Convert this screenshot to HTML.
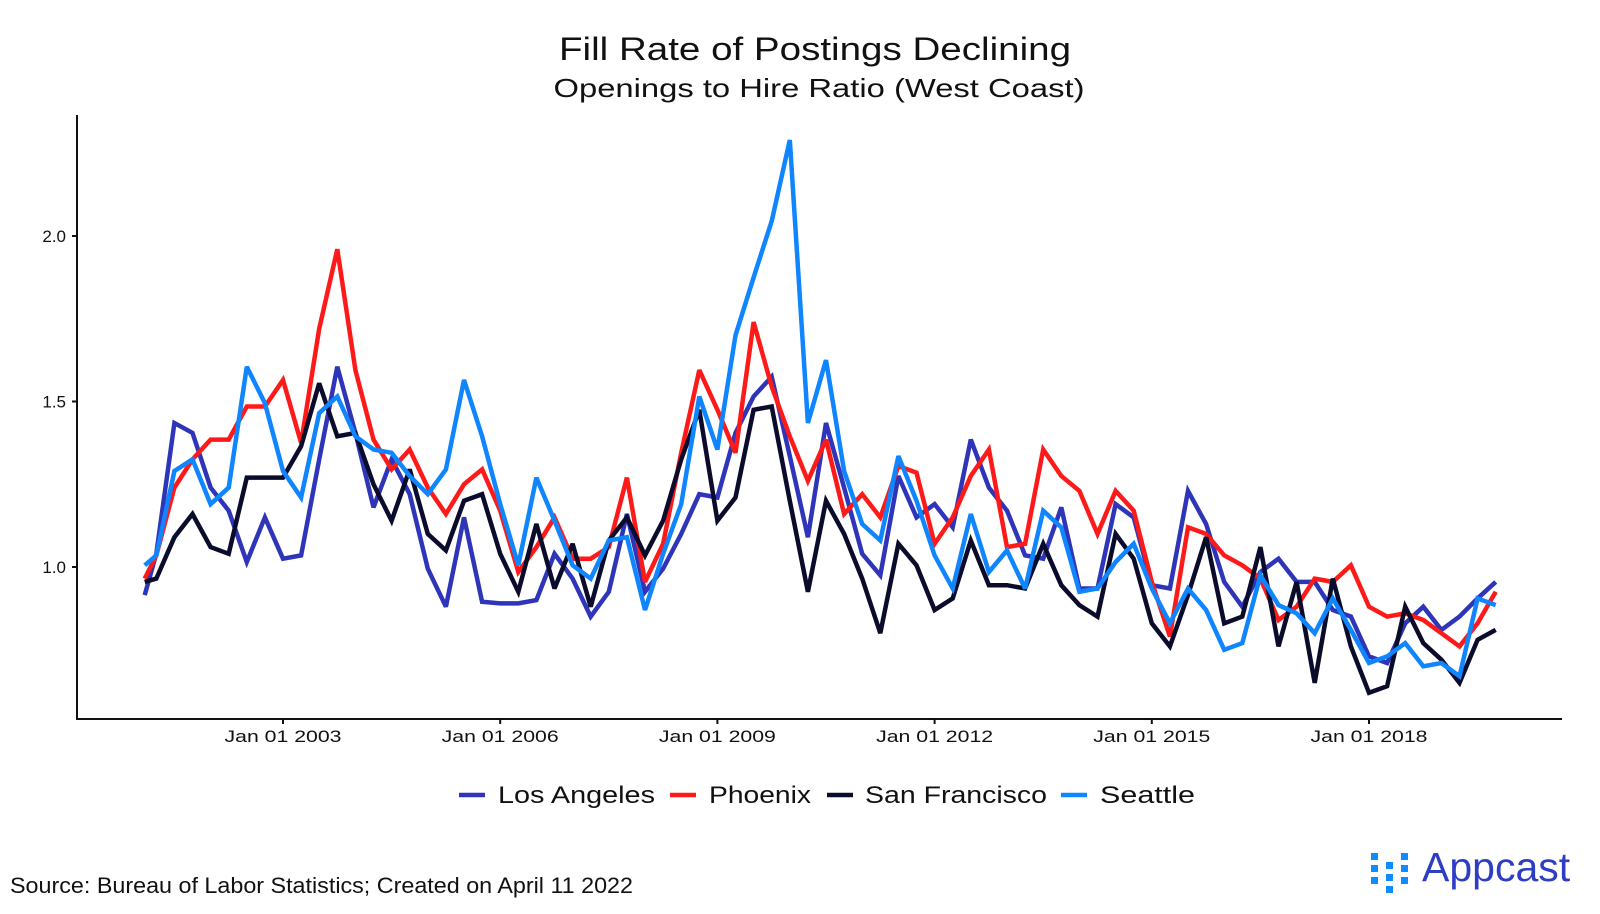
<!DOCTYPE html>
<html><head><meta charset="utf-8"><style>
body{margin:0;background:#fff;}
svg text{font-family:"Liberation Sans",sans-serif;}
</style></head><body>
<svg width="1600" height="909" viewBox="0 0 1600 909" xmlns="http://www.w3.org/2000/svg">
<text x="815" y="60" text-anchor="middle" font-size="32" textLength="512" lengthAdjust="spacingAndGlyphs" fill="#111">Fill Rate of Postings Declining</text>
<text x="819" y="97" text-anchor="middle" font-size="26" textLength="531" lengthAdjust="spacingAndGlyphs" fill="#111">Openings to Hire Ratio (West Coast)</text>
<g id="axes"></g>
<g id="series"></g>
<g font-size="24" fill="#111">
<line x1="459" y1="795" x2="485" y2="795" stroke="#2f35b8" stroke-width="4.5"/>
<text x="498" y="803" textLength="157" lengthAdjust="spacingAndGlyphs">Los Angeles</text>
<line x1="670" y1="795" x2="696" y2="795" stroke="#ff1a1a" stroke-width="4.5"/>
<text x="709" y="803" textLength="102" lengthAdjust="spacingAndGlyphs">Phoenix</text>
<line x1="827" y1="795" x2="853" y2="795" stroke="#0b0b2b" stroke-width="4.5"/>
<text x="865" y="803" textLength="182" lengthAdjust="spacingAndGlyphs">San Francisco</text>
<line x1="1061" y1="795" x2="1087" y2="795" stroke="#0f85ff" stroke-width="4.5"/>
<text x="1100" y="803" textLength="95" lengthAdjust="spacingAndGlyphs">Seattle</text>
</g>
<text x="10" y="893" font-size="22" textLength="623" lengthAdjust="spacingAndGlyphs" fill="#111">Source: Bureau of Labor Statistics; Created on April 11 2022</text>
<g>
<g fill="#0f8cff">
<rect x="1371" y="853" width="7" height="7"/><rect x="1371" y="865" width="7" height="7"/><rect x="1371" y="877" width="7" height="7"/>
<rect x="1386" y="862" width="7" height="7"/><rect x="1386" y="874" width="7" height="7"/><rect x="1386" y="886" width="7" height="7"/>
<rect x="1401" y="853" width="7" height="7"/><rect x="1401" y="865" width="7" height="7"/><rect x="1401" y="877" width="7" height="7"/>
</g>
<text x="1422" y="881" font-size="41" fill="#2d3ec4">Appcast</text>
</g>
</svg>
<script>
const seriesNames = ["Los Angeles","Phoenix","San Francisco","Seattle"];
const xTickYears = [2003,2006,2009,2012,2015,2018];
const xTickLabels = ["Jan 01 2003","Jan 01 2006","Jan 01 2009","Jan 01 2012","Jan 01 2015","Jan 01 2018"];
const yTickValues = [1.0,1.5,2.0];
const yTickLabels = ["1.0","1.5","2.0"];
const firstDates = [2001.09,2001.25];
const losAngeles = [0.915,1.04,1.435,1.405,1.24,1.17,1.015,1.15,1.025,1.035,1.325,1.605,1.405,1.18,1.325,1.22,0.995,0.88,1.15,0.895,0.89,0.89,0.90,1.04,0.965,0.85,0.925,1.16,0.925,0.995,1.10,1.22,1.21,1.405,1.515,1.575,1.335,1.09,1.435,1.24,1.04,0.975,1.275,1.15,1.19,1.12,1.385,1.24,1.17,1.035,1.025,1.18,0.935,0.935,1.19,1.15,0.945,0.935,1.23,1.13,0.955,0.88,0.985,1.025,0.955,0.955,0.87,0.85,0.73,0.71,0.83,0.88,0.81,0.85,0.905,0.955];
const phoenix = [0.965,1.035,1.24,1.325,1.385,1.385,1.485,1.485,1.565,1.375,1.72,1.96,1.595,1.385,1.295,1.355,1.24,1.16,1.25,1.295,1.17,0.985,1.06,1.15,1.025,1.025,1.06,1.27,0.955,1.07,1.345,1.595,1.475,1.345,1.74,1.545,1.395,1.26,1.385,1.16,1.22,1.15,1.305,1.285,1.07,1.15,1.275,1.355,1.06,1.07,1.355,1.275,1.23,1.10,1.23,1.17,0.955,0.79,1.12,1.10,1.035,1.005,0.965,0.84,0.88,0.965,0.955,1.005,0.88,0.85,0.86,0.84,0.80,0.76,0.83,0.925];
const sanFrancisco = [0.955,0.965,1.09,1.16,1.06,1.04,1.27,1.27,1.27,1.365,1.555,1.395,1.405,1.25,1.14,1.295,1.10,1.05,1.20,1.22,1.04,0.925,1.13,0.935,1.07,0.88,1.08,1.15,1.035,1.14,1.325,1.475,1.14,1.21,1.475,1.485,1.20,0.925,1.20,1.10,0.965,0.80,1.07,1.005,0.87,0.905,1.08,0.945,0.945,0.935,1.07,0.945,0.885,0.85,1.10,1.025,0.83,0.76,0.915,1.09,0.83,0.85,1.06,0.76,0.955,0.65,0.965,0.76,0.62,0.64,0.88,0.77,0.72,0.65,0.78,0.81];
const seattle = [1.005,1.035,1.29,1.325,1.19,1.24,1.605,1.495,1.29,1.21,1.465,1.515,1.395,1.355,1.345,1.275,1.22,1.295,1.565,1.395,1.19,1.005,1.27,1.14,1.005,0.965,1.08,1.09,0.87,1.04,1.19,1.515,1.355,1.70,1.875,2.045,2.29,1.435,1.625,1.29,1.13,1.08,1.335,1.20,1.035,0.935,1.16,0.985,1.05,0.935,1.17,1.12,0.925,0.935,1.015,1.07,0.935,0.83,0.935,0.87,0.75,0.77,0.975,0.885,0.86,0.80,0.905,0.81,0.71,0.73,0.77,0.70,0.71,0.67,0.905,0.885];
const seriesColors = ["#2f35b8","#ff1a1a","#0b0b2b","#0f85ff"];

const NS="http://www.w3.org/2000/svg";
const X0=283, PXY=72.4, Y1=567, PXV=331;
function xScale(year){return X0+(year-2003)*PXY;}
function yScale(v){return Y1-(v-1)*PXV;}
function dateAt(i){return i<firstDates.length?firstDates[i]:2001.5+(i-firstDates.length)*0.25;}

const axes=document.getElementById('axes');
function mk(tag,attrs,parent){const e=document.createElementNS(NS,tag);for(const k in attrs)e.setAttribute(k,attrs[k]);parent.appendChild(e);return e;}
const yl=mk('line',{x1:77,y1:115,x2:77,y2:720,stroke:'#111','stroke-width':2},axes);


const xl=mk('line',{x1:76,y1:719,x2:1562,y2:719,stroke:'#111','stroke-width':2},axes);


xTickYears.forEach((yr,i)=>{
  const x=xScale(yr);
  const t=mk('line',{x1:x,y1:719,x2:x,y2:724,stroke:'#111','stroke-width':2},axes);
  
  
  const tx=mk('text',{x:x,y:742,'text-anchor':'middle','font-size':17,textLength:117,lengthAdjust:'spacingAndGlyphs',fill:'#111'},axes);
  tx.textContent=xTickLabels[i];
  
  
});
yTickValues.forEach((v,i)=>{
  const y=yScale(v);
  const t=mk('line',{x1:72,y1:y,x2:77,y2:y,stroke:'#111','stroke-width':2},axes);
  
  
  const tx=mk('text',{x:66,y:y+6,'text-anchor':'end','font-size':17,fill:'#111'},axes);
  tx.textContent=yTickLabels[i];
  
  
});
const sg=document.getElementById('series');
[losAngeles,phoenix,sanFrancisco,seattle].forEach((vals,s)=>{
  const pts=vals.map((v,i)=>xScale(dateAt(i)).toFixed(1)+','+yScale(v).toFixed(1)).join(' ');
  const p=mk('polyline',{points:pts,fill:'none',stroke:seriesColors[s],'stroke-width':4.5,'stroke-linejoin':'miter','stroke-miterlimit':3},sg);
  
  
});
</script>
</body></html>
